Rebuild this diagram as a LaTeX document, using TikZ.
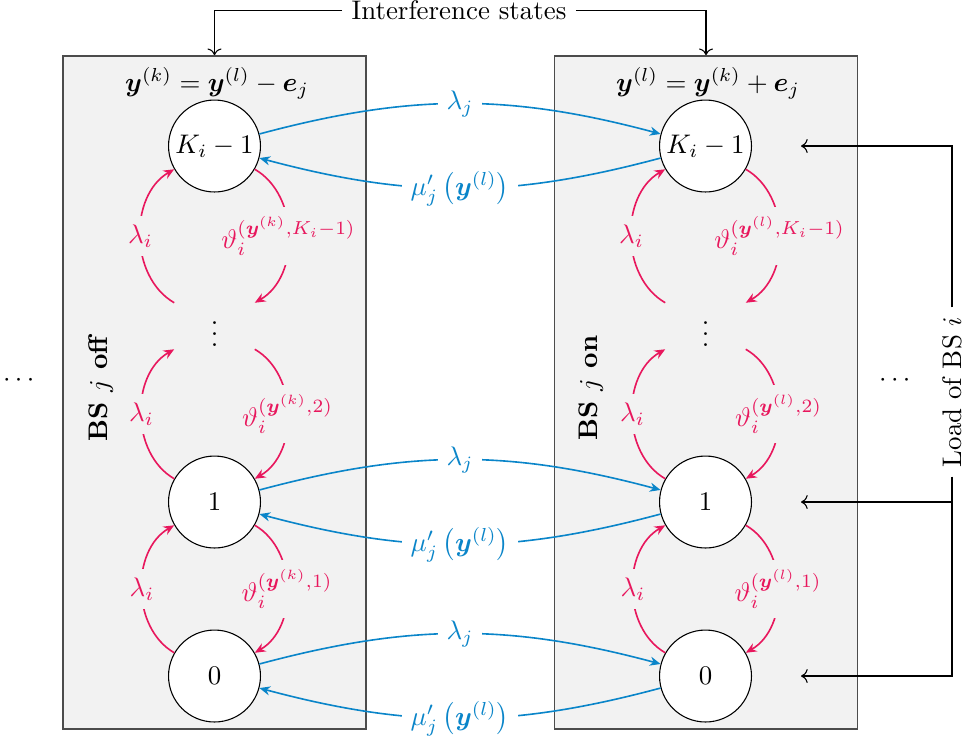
\documentclass[tikz,border=0pt]{standalone}
\usepackage{amsmath,amssymb,bm}
\usetikzlibrary{arrows.meta}
\definecolor{myblue}{RGB}{10,133,201}
\definecolor{myred}{RGB}{232,23,93}
\definecolor{boxgray}{RGB}{242,242,242}
\tikzset{
 state/.style={circle,draw=black,line width=0.4pt,fill=white,minimum size=34.2pt,inner sep=0pt},
 ghost/.style={circle,minimum size=34.2pt,inner sep=0pt},
 panel/.style={rectangle,draw=black!70,line width=0.6pt,fill=boxgray,minimum width=112.7pt,minimum height=250.4pt,inner sep=0pt},
 bluearr/.style={draw=myblue,line width=0.6pt,-{Stealth[length=4pt,width=3.4pt]}},
 redarr/.style={draw=myred,line width=0.6pt,-{Stealth[length=4pt,width=3.4pt]}},
 bluelab/.style={fill=white,text=myblue,midway},
 redlab/.style={fill=boxgray,text=myred,midway},
 blackarr/.style={draw=black,line width=0.4pt,->},
}
\begin{document}
\begin{tikzpicture}[x=0.372pt,y=-0.372pt]
\useasboundingbox (0,0) rectangle (968,742);
% panels
\node[panel] (boxL) at (214.5,392.5) {};
\node[panel] (boxR) at (706,392.5) {};
% titles
\node (titL) at (217,83) {$\bm{y}^{(k)}=\bm{y}^{(l)}-\bm{e}_j$};
\node (titR) at (708,83) {$\bm{y}^{(l)}=\bm{y}^{(k)}+\bm{e}_j$};
% side labels
\node[rotate=90] (offL) at (101,388) {\textbf{BS $j$ off}};
\node[rotate=90] (onR) at (591,388) {\textbf{BS $j$ on}};
% outside dots
\node (dotsL) at (21,381) {$\cdots$};
\node (dotsR) at (897,381) {$\cdots$};
% states left
\node[state] (LK) at (214.5,146) {$K_i-1$};
\node[ghost] (Ld) at (214.5,326) {$\vdots$};
\node[state] (L1) at (214.5,502) {$1$};
\node[state] (L0) at (214.5,676) {$0$};
% states right
\node[state] (RK) at (705.5,146) {$K_i-1$};
\node[ghost] (Rd) at (705.5,326) {$\vdots$};
\node[state] (R1) at (705.5,502) {$1$};
\node[state] (R0) at (705.5,676) {$0$};
% red transitions left panel
\draw[redarr] (L0) to[out=150,in=210] node[redlab] {$\lambda_i$} (L1);
\draw[redarr] (L1) to[out=150,in=210] node[redlab] {$\lambda_i$} (Ld);
\draw[redarr] (Ld) to[out=150,in=210] node[redlab] {$\lambda_i$} (LK);
\draw[redarr] (LK) to[out=-30,in=30] node[redlab] {$\vartheta_i^{(\bm{y}^{(k)},K_i-1)}$} (Ld);
\draw[redarr] (Ld) to[out=-30,in=30] node[redlab] {$\vartheta_i^{(\bm{y}^{(k)},2)}$} (L1);
\draw[redarr] (L1) to[out=-30,in=30] node[redlab] {$\vartheta_i^{(\bm{y}^{(k)},1)}$} (L0);
% red transitions right panel
\draw[redarr] (R0) to[out=150,in=210] node[redlab] {$\lambda_i$} (R1);
\draw[redarr] (R1) to[out=150,in=210] node[redlab] {$\lambda_i$} (Rd);
\draw[redarr] (Rd) to[out=150,in=210] node[redlab] {$\lambda_i$} (RK);
\draw[redarr] (RK) to[out=-30,in=30] node[redlab] {$\vartheta_i^{(\bm{y}^{(l)},K_i-1)}$} (Rd);
\draw[redarr] (Rd) to[out=-30,in=30] node[redlab] {$\vartheta_i^{(\bm{y}^{(l)},2)}$} (R1);
\draw[redarr] (R1) to[out=-30,in=30] node[redlab] {$\vartheta_i^{(\bm{y}^{(l)},1)}$} (R0);
% blue transitions
\draw[bluearr] (LK) to[bend left=15] node[bluelab] {$\lambda_j$} (RK);
\draw[bluearr] (RK) to[bend left=15] node[bluelab] {$\mu'_j\left(\bm{y}^{(l)}\right)$} (LK);
\draw[bluearr] (L1) to[bend left=15] node[bluelab] {$\lambda_j$} (R1);
\draw[bluearr] (R1) to[bend left=15] node[bluelab] {$\mu'_j\left(\bm{y}^{(l)}\right)$} (L1);
\draw[bluearr] (L0) to[bend left=15] node[bluelab] {$\lambda_j$} (R0);
\draw[bluearr] (R0) to[bend left=15] node[bluelab] {$\mu'_j\left(\bm{y}^{(l)}\right)$} (L0);
% interference states
\node (int) at (459,10.5) {Interference states};
\draw[blackarr] (int.west) -| (boxL.north);
\draw[blackarr] (int.east) -| (boxR.north);
% load of BS i
\node[rotate=90] (load) at (952,392) {Load of BS $i$};
\coordinate (aK) at (801,146);
\coordinate (a1) at (801,502);
\coordinate (a0) at (801,676);
\draw[blackarr] (load.east) |- (aK);
\draw[blackarr] (load.west) |- (a0);
\draw[blackarr] (load.west |- a1) -- (a1);
\end{tikzpicture}
\end{document}
